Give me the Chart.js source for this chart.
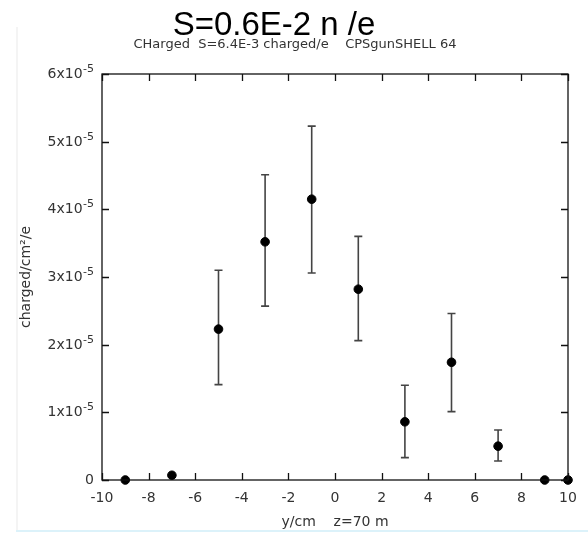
<!DOCTYPE html>
<html>
<head>
<meta charset="utf-8">
<script src="https://cdn.jsdelivr.net/npm/chart.js@4"></script>
<style>
  html, body { margin: 0; padding: 0; background: #fff; }
  #wrap { position: relative; width: 588px; height: 533px; overflow: hidden; }
  #plot { position: absolute; left: 0; top: 0; }
  .frame-left { position: absolute; left: 16px; top: 27px; width: 2px; height: 504px; background: #f4f4f4; }
  .frame-bottom { position: absolute; left: 16px; top: 530px; width: 572px; height: 2px; background: #dcf2fa; }
  #title { position: absolute; left: 0; top: 7px; width: 548px; text-align: center;
           font: 33px/33px "Liberation Sans", Arial, sans-serif; color: #000; }
  #subtitle { position: absolute; left: 0; top: 37px; width: 590px; text-align: center;
              font: 13px/13px "DejaVu Sans", sans-serif; color: #333; white-space: pre; }
</style>
</head>
<body>
<div id="wrap">
  <div class="frame-left"></div>
  <div class="frame-bottom"></div>
  <canvas id="plot" width="588" height="533"></canvas>
  <div id="title">S=0.6E-2 n /e</div>
  <div id="subtitle">CHarged  S=6.4E-3 charged/e    CPSgunSHELL 64</div>
</div>
<script>
(function(){
// positions along y (cm)
const positions = [-9, -7, -5, -3, -1, 1, 3, 5, 7, 9, 10];
// charged per cm2 per electron
const values   = [0, 0.07e-5, 2.23e-5, 3.52e-5, 4.15e-5, 2.82e-5, 0.86e-5, 1.74e-5, 0.50e-5, 0, 0];
const errLow   = [null, null, 1.41e-5, 2.57e-5, 3.06e-5, 2.06e-5, 0.33e-5, 1.01e-5, 0.28e-5, null, null];
const errHigh  = [null, null, 3.10e-5, 4.51e-5, 5.23e-5, 3.60e-5, 1.40e-5, 2.46e-5, 0.74e-5, null, null];

const xTicks = [-10, -8, -6, -4, -2, 0, 2, 4, 6, 8, 10];
const yTicks = [0, 1e-5, 2e-5, 3e-5, 4e-5, 5e-5, 6e-5];
// y labels are mantissa + raised exponent
const yTickBase = ['0', '1x10', '2x10', '3x10', '4x10', '5x10', '6x10'];
const yTickExp  = ['', '-5', '-5', '-5', '-5', '-5', '-5'];

const points = positions.map((x, i) => ({ x: x, y: values[i] }));

const tickFont = { family: 'DejaVu Sans', size: 14 };
const textColor = '#333';

// vertical error bars with small caps, behind the markers
const errorBars = {
    id: 'errorBars',
    beforeDatasetsDraw(chart) {
        const ctx = chart.ctx;
        const xs = chart.scales.x, ys = chart.scales.y;
        ctx.save();
        ctx.strokeStyle = '#444';
        ctx.lineWidth = 1.6;
        for (let i = 0; i < positions.length; i++) {
            if (errLow[i] === null) continue;
            const px = xs.getPixelForValue(positions[i]);
            const lo = ys.getPixelForValue(errLow[i]);
            const hi = ys.getPixelForValue(errHigh[i]);
            ctx.beginPath();
            ctx.moveTo(px, lo); ctx.lineTo(px, hi);
            ctx.moveTo(px - 4, lo); ctx.lineTo(px + 4, lo);
            ctx.moveTo(px - 4, hi); ctx.lineTo(px + 4, hi);
            ctx.stroke();
        }
        ctx.restore();
    }
};

// closed frame with inward tick marks on all four sides, plus y labels with superscripts
const frame = {
    id: 'frame',
    afterDraw(chart) {
        const ctx = chart.ctx;
        const a = chart.chartArea;
        const xs = chart.scales.x, ys = chart.scales.y;
        const len = 7;
        ctx.save();
        ctx.strokeStyle = '#111';
        ctx.lineWidth = 1.3;
        ctx.strokeRect(a.left, a.top, a.right - a.left, a.bottom - a.top);
        ctx.beginPath();
        xTicks.forEach(v => {
            const px = Math.round(xs.getPixelForValue(v)) + 0.5;
            ctx.moveTo(px, a.bottom); ctx.lineTo(px, a.bottom - len);
            ctx.moveTo(px, a.top); ctx.lineTo(px, a.top + len);
        });
        yTicks.forEach(v => {
            const py = Math.round(ys.getPixelForValue(v)) + 0.5;
            ctx.moveTo(a.left, py); ctx.lineTo(a.left + len, py);
            ctx.moveTo(a.right, py); ctx.lineTo(a.right - len, py);
        });
        ctx.stroke();

        ctx.fillStyle = textColor;
        ctx.textBaseline = 'alphabetic';
        ctx.textAlign = 'right';
        const right = a.left - 8;
        yTicks.forEach((v, i) => {
            const base = Math.round(ys.getPixelForValue(v)) + 4;
            let x = right;
            if (yTickExp[i]) {
                ctx.font = '11px "DejaVu Sans"';
                ctx.fillText(yTickExp[i], x, base - 6.5);
                x -= ctx.measureText(yTickExp[i]).width + 0.5;
            }
            ctx.font = '14px "DejaVu Sans"';
            ctx.fillText(yTickBase[i], x, base);
        });
        ctx.restore();
    }
};

new Chart(document.getElementById('plot'), {
    type: 'scatter',
    data: {
        datasets: [{
            data: points,
            backgroundColor: '#000',
            borderColor: '#000',
            pointRadius: 4.3,
            pointHoverRadius: 4.3,
            clip: false
        }]
    },
    options: {
        responsive: false,
        animation: false,
        events: [],
        layout: { padding: { left: 0, top: 74, right: 20, bottom: 0 } },
        plugins: { legend: { display: false }, tooltip: { enabled: false } },
        scales: {
            x: {
                type: 'linear',
                min: -10, max: 10,
                afterFit(scale) { scale.height = 53; },
                afterBuildTicks(scale) { scale.ticks = xTicks.map(v => ({ value: v })); },
                grid: { display: false, drawTicks: false },
                border: { display: false },
                ticks: { font: tickFont, color: textColor, padding: 10, maxRotation: 0 },
                title: { display: true, text: 'y/cm    z=70 m', font: tickFont, color: textColor,
                         padding: { top: 0, bottom: 2 } }
            },
            y: {
                type: 'linear',
                min: 0, max: 6e-5,
                afterFit(scale) { scale.width = 102; },
                afterBuildTicks(scale) { scale.ticks = yTicks.map(v => ({ value: v })); },
                grid: { display: false, drawTicks: false },
                border: { display: false },
                ticks: { display: false },
                title: { display: true, text: 'charged/cm\u00B2/e', font: tickFont, color: textColor,
                         padding: { top: 18, bottom: 0 } }
            }
        }
    },
    plugins: [errorBars, frame]
});
}());
</script>
</body>
</html>
